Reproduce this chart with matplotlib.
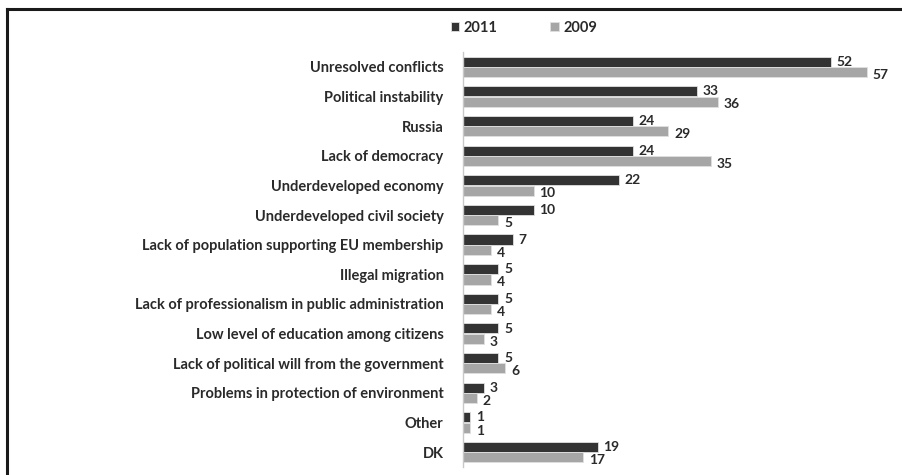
import matplotlib.pyplot as plt
import numpy as np

categories = ["Unresolved conflicts", "Political instability", "Russia", "Lack of democracy",
              "Underdeveloped economy", "Underdeveloped civil society",
              "Lack of population supporting EU membership", "Illegal migration",
              "Lack of professionalism in public administration",
              "Low level of education among citizens",
              "Lack of political will from the government",
              "Problems in protection of environment", "Other", "DK"]
v2011 = [52, 33, 24, 24, 22, 10, 7, 5, 5, 5, 5, 3, 1, 19]
v2009 = [57, 36, 29, 35, 10, 5, 4, 4, 4, 3, 6, 2, 1, 17]

plt.rcParams['font.family'] = ['Lato', 'DejaVu Sans']
plt.rcParams['font.weight'] = 'bold'

fig = plt.figure(figsize=(9.02, 4.75), dpi=100)
W, H = 902, 475

# frame (left + top visible in the reference)
fig.add_artist(plt.Line2D([7 / W, 7 / W], [0, 1 - 9 / H], color='#1a1a1a', lw=2.2))
fig.add_artist(plt.Line2D([7 / W, 1], [1 - 9 / H, 1 - 9 / H], color='#1a1a1a', lw=2.2))

ax = fig.add_axes([463 / W, 8 / H, (892 - 463) / W, (467 - 52) / H])
y = np.arange(len(categories))
h = 0.34
ax.barh(y - 0.175, v2011, height=h, color='#333333', edgecolor='#e0e0e0', lw=0.6, label='2011')
ax.barh(y + 0.175, v2009, height=h, color='#a6a6a6', edgecolor='#e0e0e0', lw=0.6, label='2009')

for i in range(len(categories)):
    ax.text(v2011[i] + 0.8, y[i] - 0.17, str(v2011[i]), va='center', ha='left',
            fontsize=10, color='#2a2a2a', fontweight='bold')
    ax.text(v2009[i] + 0.8, y[i] + 0.27, str(v2009[i]), va='center', ha='left',
            fontsize=10, color='#2a2a2a', fontweight='bold')

ax.set_xlim(0, (892 - 463) / 7.08)
ax.set_ylim(len(categories) - 0.5, -0.5)
ax.set_yticks(y)
ax.set_yticklabels(categories, fontsize=10.5, color='#2a2a2a', fontweight='bold')
ax.tick_params(axis='y', length=0, pad=14)
ax.set_xticks([])
for s in ['top', 'right', 'bottom']:
    ax.spines[s].set_visible(False)
ax.spines['left'].set_color('#c8c8c8')
ax.spines['left'].set_linewidth(1.0)

leg = fig.legend(loc='center', bbox_to_anchor=(524 / W, 1 - 28 / H), ncol=2, frameon=False,
                 fontsize=10.5, handlelength=0.6, handleheight=0.6, columnspacing=3.6,
                 handletextpad=0.3)
for t in leg.get_texts():
    t.set_color('#2a2a2a')
    t.set_fontweight('bold')

plt.savefig("out.png", dpi=100)
